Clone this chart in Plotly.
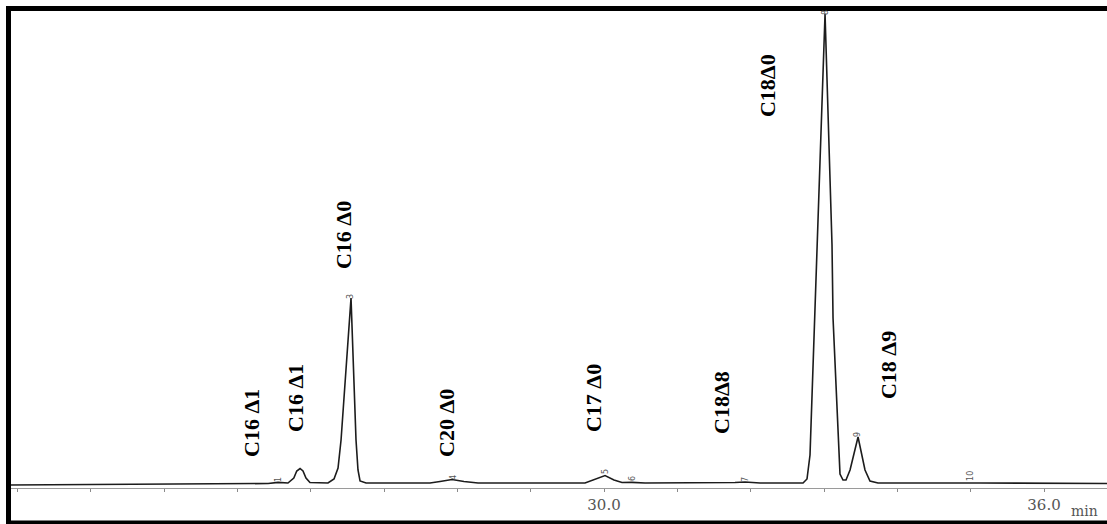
import plotly.graph_objects as go

# Retention time (min) and detector response (arbitrary units) along the trace
time_min = [21.88, 23.81, 25.42, 25.555, 25.69, 25.77, 25.81, 25.855, 25.895, 25.936,
            25.99, 26.236, 26.318, 26.373, 26.414, 26.55, 26.618, 26.645, 26.673, 26.755,
            27.627, 27.764, 27.927, 28.09, 28.282, 29.741, 29.864, 30.014, 30.136, 30.245,
            30.382, 30.559, 31.786, 31.923, 32.127, 32.714, 32.768, 32.809, 33.014, 33.109,
            33.123, 33.191, 33.218, 33.259, 33.30, 33.355, 33.464, 33.559, 33.627, 33.736,
            34.882, 34.99, 35.127, 36.86]
response = [-2.0, -1.5, -0.5, 0.6, 0.0, 5.0, 12.0, 14.5, 12.0, 5.0,
            0.5, 0.0, 4.0, 15.0, 43.0, 185.0, 43.0, 13.0, 2.0, 0.0,
            0.0, 1.5, 3.5, 1.5, 0.0, 0.0, 3.5, 7.5, 3.0, 0.5,
            0.6, 0.0, 0.5, 1.0, 0.0, 0.0, 4.0, 28.0, 469.0, 238.0,
            165.0, 43.0, 9.0, 3.0, 3.0, 13.0, 46.0, 13.0, 2.0, 0.0,
            0.0, 0.6, 0.0, -0.5]

# Fatty acid peak labels: text, label centre (time, response)
peak_names = ["C16 Δ1", "C16 Δ1", "C16 Δ0", "C20 Δ0", "C17 Δ0", "C18Δ8", "C18Δ0", "C18 Δ9"]
name_time = [25.186, 25.786, 26.441, 27.845, 29.85, 31.595, 32.223, 33.873]
name_resp = [60, 85, 248, 60, 85, 81, 397, 118]

# Integrator peak numbers
peak_numbers = ["1", "3", "4", "5", "6", "7", "8", "9", "10"]
number_time = [25.555, 26.536, 27.94, 30.014, 30.382, 31.923, 33.014, 33.45, 34.99]
number_resp = [3, 187, 6, 11, 4, 3, 470, 48, 7]

tick_minutes = list(range(22, 37))
tick_text = ["30.0" if m == 30 else "36.0" if m == 36 else "" for m in tick_minutes]

fig = go.Figure()
fig.add_trace(go.Scatter(
    x=time_min, y=response, mode="lines",
    line=dict(color="#1c1c1c", width=1.6),
    hoverinfo="skip", showlegend=False,
))

annotations = []
for txt, t, r in zip(peak_names, name_time, name_resp):
    annotations.append(dict(
        x=t, y=r, xref="x", yref="y", text=f"<b>{txt}</b>", textangle=-90,
        showarrow=False, xanchor="center", yanchor="middle",
        font=dict(family="Liberation Serif", size=22, color="#000000"),
    ))
for txt, t, r in zip(peak_numbers, number_time, number_resp):
    annotations.append(dict(
        x=t, y=r, xref="x", yref="y", text=txt, textangle=-90,
        showarrow=False, xanchor="center", yanchor="middle",
        font=dict(family="DejaVu Sans", size=8, color="#555555"),
    ))
# time unit, tucked into the lower right corner
annotations.append(dict(
    x=0.9655, y=-0.0695, xref="paper", yref="paper", text="min",
    showarrow=False, xanchor="left", yanchor="bottom",
    font=dict(family="DejaVu Serif", size=14, color="#555555"),
))

fig.update_layout(
    width=1107, height=524,
    margin=dict(l=9, r=0, t=10, b=36),
    paper_bgcolor="white", plot_bgcolor="white",
    showlegend=False,
    xaxis=dict(
        range=[21.886, 36.859], tickmode="array",
        tickvals=tick_minutes, ticktext=tick_text,
        showgrid=False, zeroline=False,
        showline=True, linecolor="#9a9a9a", linewidth=1,
        ticks="outside", ticklen=3, tickcolor="#8a8a8a", tickwidth=1,
        tickfont=dict(family="DejaVu Serif", size=15, color="#555555"),
    ),
    yaxis=dict(range=[-5, 473], visible=False),
    annotations=annotations,
    shapes=[dict(
        type="rect", xref="paper", yref="paper",
        x0=-0.000455, x1=1.02, y0=-0.0732, y1=1.0031,
        line=dict(color="black", width=5), layer="above",
    )],
)

fig.write_html("out.html")
